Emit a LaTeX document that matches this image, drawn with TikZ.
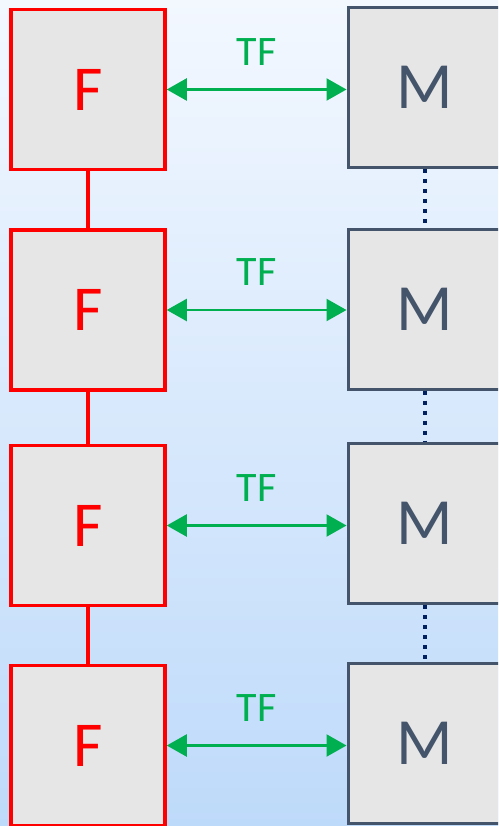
\documentclass[tikz,border=0pt]{standalone}
\usepackage{fontspec}
\setmainfont{Carlito}
\usepackage{xcolor}
\definecolor{fred}{RGB}{255,0,0}
\definecolor{mslate}{RGB}{68,84,106}
\definecolor{tfgreen}{RGB}{0,176,80}
\definecolor{linknavy}{RGB}{0,32,96}
\definecolor{boxgray}{RGB}{230,230,230}
\definecolor{bgtop}{RGB}{243,248,255}
\definecolor{bgbottom}{RGB}{190,218,250}
\usepackage{tikz}
\usetikzlibrary{arrows.meta, positioning, calc}

\tikzset{
  fbox/.style={draw=fred, line width=3.5pt, fill=boxgray, minimum width=154pt, minimum height=160pt,
    inner sep=0pt, text=fred, font=\fontsize{64}{64}\selectfont},
  mbox/.style={draw=mslate, line width=3pt, fill=boxgray, minimum width=154pt, minimum height=160pt,
    inner sep=0pt, text=mslate, font=\fontsize{66}{66}\selectfont},
  tflink/.style={draw=tfgreen, line width=2.2pt, {Triangle[length=20pt,width=22pt]}-{Triangle[length=20pt,width=22pt]}},
  tflabel/.style={text=tfgreen, font=\fontsize{42}{42}\selectfont},
  fchain/.style={draw=fred, line width=4pt},
  mchain/.style={draw=linknavy, line width=3.5pt, dash pattern=on 4pt off 6pt}
}

\begin{document}
\begin{tikzpicture}[x=1pt, y=1pt]
  \useasboundingbox (0,0) rectangle (498,-826);
  \clip (0,0) rectangle (498,-826);
  \shade[top color=bgtop, bottom color=bgbottom] (0,0) rectangle (498,-826);

  % F column on the left, M column on the right
  \foreach \i/\fy/\my in {1/89.5/87.5, 2/310/309, 3/525.5/523.5, 4/745.5/743.5} {
    \node[fbox] (f\i) at (88,-\fy) {F};
    \node[mbox] (m\i) at (425,-\my) {M};
  }

  % links down each column
  \foreach \i [evaluate=\i as \j using int(\i+1)] in {1,2,3} {
    \draw[fchain] (f\i.south) -- (f\j.north);
    \draw[mchain] (m\i.south) -- (m\j.north);
  }

  % TF arrows between the columns
  \foreach \i in {1,...,4} {
    \draw[tflink] (f\i.east) -- node[tflabel, above=20pt, midway] {TF} (f\i.east -| m\i.west);
  }
\end{tikzpicture}
\end{document}
